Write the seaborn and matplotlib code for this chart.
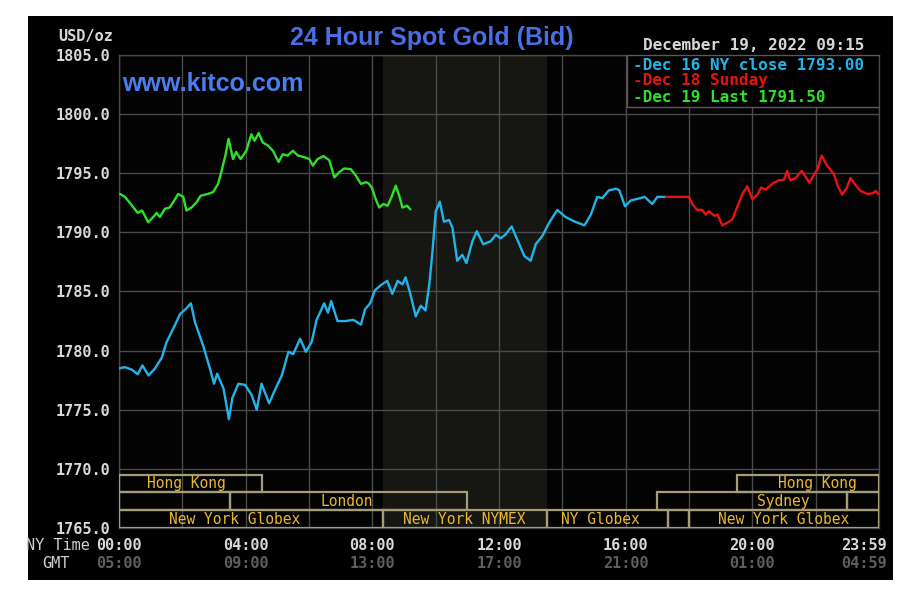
import numpy as np
import pandas as pd
import matplotlib
matplotlib.use("Agg")
import matplotlib.pyplot as plt
import matplotlib.transforms as mtransforms
from matplotlib.patches import Rectangle
import seaborn as sns

# ---------------- data ----------------
blue_hours = [0.0, 0.19, 0.4, 0.59, 0.74, 0.93, 1.14, 1.35, 1.5, 1.72, 1.93, 2.1, 2.27, 2.4, 2.66,
              2.87, 3.0, 3.1, 3.3, 3.47, 3.58, 3.77, 3.98, 4.19, 4.35, 4.5, 4.74, 4.93, 5.14, 5.35,
              5.5, 5.72, 5.9, 6.08, 6.24, 6.48, 6.6, 6.7, 6.9, 7.14, 7.4, 7.64, 7.77, 7.93, 8.08,
              8.3, 8.47, 8.63, 8.8, 8.95, 9.05, 9.2, 9.37, 9.53, 9.68, 9.8, 9.9, 10.0, 10.13, 10.26,
              10.42, 10.53, 10.68, 10.84, 10.97, 11.16, 11.3, 11.5, 11.74, 11.9, 12.05, 12.2, 12.4,
              12.6, 12.8, 13.0, 13.16, 13.37, 13.58, 13.84, 14.1, 14.4, 14.7, 14.9, 15.1, 15.26,
              15.47, 15.7, 15.8, 15.98, 16.16, 16.4, 16.6, 16.84, 17.0, 17.27]
blue_prices = [1778.5, 1778.6, 1778.4, 1778.0, 1778.75, 1777.9, 1778.5, 1779.4, 1780.7, 1781.9,
               1783.1, 1783.5, 1784.0, 1782.4, 1780.4, 1778.5, 1777.2, 1778.05, 1776.8, 1774.2,
               1776.0, 1777.2, 1777.1, 1776.25, 1775.0, 1777.2, 1775.55, 1776.7, 1777.9, 1779.9,
               1779.7, 1781.0, 1779.9, 1780.7, 1782.6, 1784.0, 1783.2, 1784.2, 1782.5, 1782.5,
               1782.6, 1782.2, 1783.5, 1784.0, 1785.1,
               1785.6, 1785.9, 1784.8, 1785.9, 1785.6, 1786.2, 1784.8, 1782.9, 1783.8, 1783.4,
               1785.6, 1788.4, 1791.75, 1792.6, 1790.9, 1791.05, 1790.4, 1787.6, 1788.1, 1787.4,
               1789.25, 1790.1, 1789.0, 1789.25, 1789.8, 1789.5, 1789.8, 1790.5, 1789.25, 1788.0,
               1787.6, 1789.0, 1789.7, 1790.8, 1791.9, 1791.3, 1790.9, 1790.6, 1791.5, 1793.0,
               1792.9, 1793.55, 1793.7, 1793.55, 1792.2, 1792.7, 1792.85, 1793.0, 1792.4, 1793.0,
               1793.0]

red_hours = [17.27, 18.0, 18.1, 18.26, 18.42, 18.53, 18.63, 18.8, 18.9, 19.05, 19.2, 19.37, 19.53,
             19.68, 19.84, 20.0, 20.16, 20.28, 20.42, 20.58, 20.68, 20.84, 21.0, 21.1, 21.2, 21.37,
             21.56, 21.8, 21.95, 22.05, 22.19, 22.35, 22.58, 22.7, 22.84, 22.98, 23.1, 23.26, 23.42,
             23.63, 23.8, 23.9, 23.98]
red_prices = [1793.0, 1793.0, 1792.4, 1791.9, 1791.9, 1791.5, 1791.8, 1791.4, 1791.5, 1790.6, 1790.8,
              1791.1, 1792.2, 1793.2, 1793.9, 1792.8, 1793.2, 1793.8, 1793.6, 1794.0, 1794.2, 1794.4,
              1794.45, 1795.2, 1794.4, 1794.6, 1795.2, 1794.2, 1794.9, 1795.3, 1796.5, 1795.7,
              1794.9, 1793.9, 1793.2, 1793.75, 1794.6, 1794.0, 1793.5, 1793.25, 1793.3, 1793.5,
              1793.25]

green_hours = [0.03, 0.19, 0.4, 0.59, 0.73, 0.92, 1.08, 1.19, 1.29, 1.45, 1.6, 1.71, 1.87, 2.03, 2.13,
               2.29, 2.45, 2.58, 2.81, 2.97, 3.13, 3.23, 3.36, 3.46, 3.6, 3.7, 3.84, 4.02, 4.18, 4.28,
               4.41, 4.54, 4.7, 4.86, 5.04, 5.17, 5.33, 5.49, 5.65, 5.86, 6.01, 6.12, 6.27, 6.46,
               6.64, 6.8, 6.96, 7.11, 7.32, 7.48, 7.64, 7.8, 7.9, 8.0, 8.1, 8.22, 8.35, 8.48, 8.6,
               8.74, 8.85, 8.95, 9.1, 9.2]
green_prices = [1793.25, 1793.0, 1792.3, 1791.65, 1791.85, 1790.85, 1791.3, 1791.65, 1791.3, 1792.0,
                1792.1, 1792.55, 1793.25, 1793.0, 1791.85, 1792.1, 1792.55, 1793.1, 1793.25, 1793.4,
                1794.1, 1795.1, 1796.5, 1797.9, 1796.2, 1796.8, 1796.2, 1796.9, 1798.3, 1797.75,
                1798.4, 1797.6, 1797.35, 1796.9, 1795.95, 1796.6, 1796.5, 1796.9, 1796.5, 1796.35,
                1796.2, 1795.65, 1796.2, 1796.45, 1796.1, 1794.65, 1795.1, 1795.4, 1795.35, 1794.8,
                1794.1, 1794.25, 1794.1, 1793.7, 1792.85, 1792.1, 1792.4, 1792.25, 1792.95, 1793.95,
                1793.1, 1792.1, 1792.25, 1791.95]

series_names = ["Dec 16", "Dec 18", "Dec 19"]
legend_labels = ["-Dec 16 NY close 1793.00", "-Dec 18 Sunday", "-Dec 19 Last 1791.50"]

y_ticks = [1765, 1770, 1775, 1780, 1785, 1790, 1795, 1800, 1805]
x_tick_hours = [0, 4, 8, 12, 16, 20, 24]
ny_labels = ["00:00", "04:00", "08:00", "12:00", "16:00", "20:00", "23:59"]
gmt_labels = ["05:00", "09:00", "13:00", "17:00", "21:00", "01:00", "04:59"]

nymex_start, nymex_end = 8.33, 13.5

# market sessions: row (0 = top), start hour, end hour, label, label hour
session_rows = [0, 0, 1, 1, 1, 1, 2, 2, 2, 2, 2]
session_start = [0.0, 19.5, 0.0, 3.5, 17.0, 23.0, 0.0, 8.33, 13.5, 17.33, 18.0]
session_end = [4.5, 24.0, 3.5, 11.0, 23.0, 24.0, 8.33, 13.5, 17.33, 18.0, 24.0]
session_label = ["Hong Kong", "Hong Kong", "", "London", "Sydney", "", "New York Globex",
                 "New York NYMEX", "NY Globex", "", "New York Globex"]
session_label_hour = [2.12, 22.06, 0, 7.18, 20.97, 0, 3.66, 10.9, 15.2, 0, 20.98]

# ---------------- style ----------------
sns.set_theme(style="dark")
plt.rcParams["font.family"] = ["DejaVu Sans Mono"]

W, H = 918, 601
fig = plt.figure(figsize=(W / 100, H / 100), dpi=100, facecolor="white")
# black panel
bg = Rectangle((28 / W, 1 - 580 / H), (893 - 28) / W, (580 - 16) / H,
               transform=fig.transFigure, facecolor="black", edgecolor="none", zorder=-10)
fig.add_artist(bg)

ax = fig.add_axes([119 / W, 1 - 528 / H, 760 / W, 473 / H])
ax.set_zorder(1)
ax.set_facecolor("#030303")
ax.set_xlim(0, 24)
ax.set_ylim(1765, 1805)

grid_c = "#4a4a4a"
ax.set_xticks(np.arange(0, 25, 2))
ax.set_yticks(y_ticks)
ax.grid(True, color=grid_c, linewidth=1.0)
ax.set_axisbelow(True)
for s in ax.spines.values():
    s.set_color(grid_c)
    s.set_linewidth(1.0)
ax.tick_params(axis="x", length=0, labelbottom=False)
ax.tick_params(axis="y", length=0, pad=6, colors="#d8d8d8", labelsize=11)
ax.set_yticklabels([f"{v:.1f}" for v in y_ticks], fontweight="bold")

# NYMEX shaded zone
ax.axvspan(nymex_start, nymex_end, color="#161713", zorder=0.5, lw=0)

# lines via seaborn
df = pd.concat([
    pd.DataFrame({"hour": blue_hours, "price": blue_prices, "series": series_names[0]}),
    pd.DataFrame({"hour": red_hours, "price": red_prices, "series": series_names[1]}),
    pd.DataFrame({"hour": green_hours, "price": green_prices, "series": series_names[2]}),
])
palette = {"Dec 16": "#22b4e8", "Dec 18": "#e81212", "Dec 19": "#2ee02a"}
sns.lineplot(data=df, x="hour", y="price", hue="series", palette=palette, linewidth=1.7,
             legend=False, ax=ax, zorder=5, estimator=None, sort=False)
ax.set_xlabel("")
ax.set_ylabel("")

# session boxes
row_top = [1769.45, 1768.05, 1766.5]
row_bot = [1768.05, 1766.5, 1765.0]
edge_c = "#a39d78"
for r, s0, s1, lab, lh in zip(session_rows, session_start, session_end, session_label,
                              session_label_hour):
    ax.add_patch(Rectangle((s0, row_bot[r]), s1 - s0, row_top[r] - row_bot[r],
                           facecolor="none", edgecolor=edge_c, linewidth=1.6, zorder=3))
    if lab:
        ax.text(lh, (row_top[r] + row_bot[r]) / 2, lab, color="#e8b832", fontsize=10.5,
                ha="center", va="center", zorder=4)

# x tick labels (two rows)
for i, (h, a, b) in enumerate(zip(x_tick_hours, ny_labels, gmt_labels)):
    if i == len(x_tick_hours) - 1:
        tr = ax.get_xaxis_transform() + mtransforms.ScaledTranslation(8 / 100, 0, fig.dpi_scale_trans)
        ha = "right"
    else:
        tr = ax.get_xaxis_transform()
        ha = "center"
    ax.text(h, -17 / 473, a, transform=tr, ha=ha, va="center", color="#d8d8d8",
            fontsize=11, fontweight="bold", clip_on=False)
    ax.text(h, -35 / 473, b, transform=tr, ha=ha, va="center", color="#5e5e5e",
            fontsize=11, fontweight="bold", clip_on=False)

fig.text(90 / W, 1 - 545 / H, "NY Time", ha="right", va="center", color="#d0d0d0", fontsize=11)
fig.text(56 / W, 1 - 563 / H, "GMT", ha="center", va="center", color="#d0d0d0", fontsize=11)
fig.text(113 / W, 1 - 36 / H, "USD/oz", ha="right", va="center", color="#d8d8d8", fontsize=11,
         fontweight="bold")

# titles
fig.text(432 / W, 1 - 38 / H, "24 Hour Spot Gold (Bid)", ha="center", va="center",
         color="#4a6ee6", fontsize=18, fontweight="bold", family="Liberation Sans")
fig.text(122 / W, 1 - 84 / H, "www.kitco.com", ha="left", va="center", color="#4a7ef0",
         fontsize=18, fontweight="bold", family="Liberation Sans")
fig.text(864 / W, 1 - 45 / H, "December 19, 2022 09:15", ha="right", va="center",
         color="#d8d8d8", fontsize=11.5, fontweight="bold")

# legend box
ax.add_patch(Rectangle(((627 - 119) / 760, 1 - 52 / 473), (879 - 627) / 760, 52 / 473,
                       transform=ax.transAxes, facecolor="black", edgecolor="#5a5a5a",
                       linewidth=1.0, zorder=6))
for lab, col, yp in zip(legend_labels, ["#22b4e8", "#e81212", "#2ee02a"], [65, 81, 98]):
    ax.text((633 - 119) / 760, (528 - yp) / 473, lab, transform=ax.transAxes, ha="left",
            va="center", color=col, fontsize=11.5, fontweight="bold", zorder=7)

fig.savefig("out.png", dpi=100, facecolor=fig.get_facecolor())
